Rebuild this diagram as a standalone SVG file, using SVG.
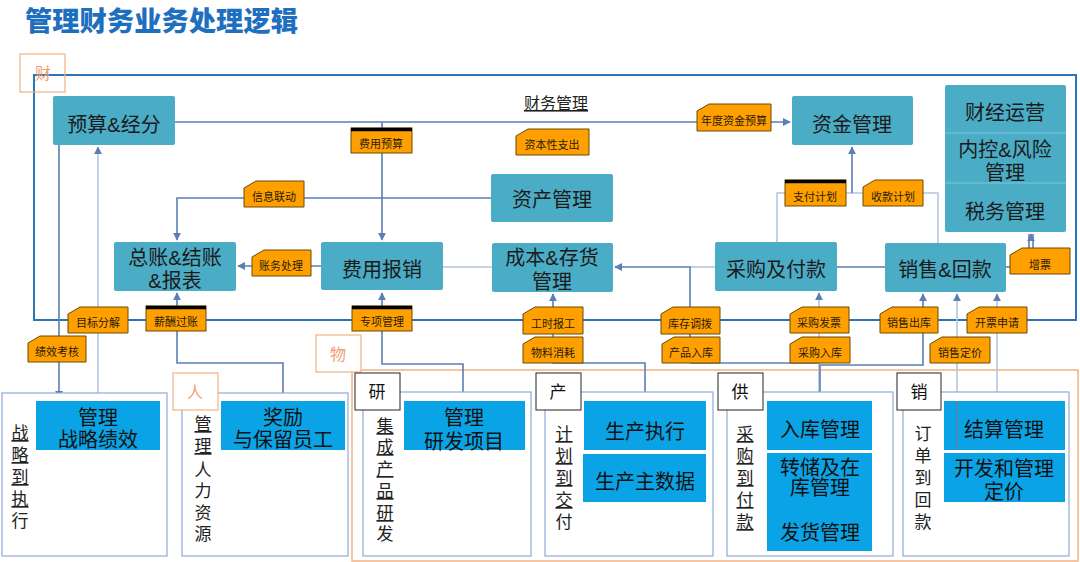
<svg xmlns="http://www.w3.org/2000/svg" width="1080" height="562" viewBox="0 0 1080 562">
<style>
text{font-family:"Liberation Sans","Noto Sans CJK SC",sans-serif;}
.title{font-size:27px;font-weight:900;fill:#1f6fbf;}
.node{fill:#4bacc6;}
.nt{font-size:20px;fill:#1b1b1b;text-anchor:middle;}
.bn{fill:#0aa4e6;}
.bt{font-size:20px;fill:#111;text-anchor:middle;}
.lab{fill:#ffa000;stroke:#6b4a00;stroke-width:1;}
.lt{font-size:11px;fill:#2a1a00;text-anchor:middle;}
.bar{stroke:#000;stroke-width:3.5;}
.frame{fill:none;stroke:#2e75b6;stroke-width:2;}
.oframe{fill:none;stroke:#f4b183;stroke-width:1.5;}
.obox{fill:#fff;stroke:#f4b183;stroke-width:1.2;}
.ot{font-size:16px;fill:#f0a070;text-anchor:middle;}
.sec{fill:#fff;stroke:#8eaadb;stroke-width:1.2;}
.kbox{fill:#fff;stroke:#222;stroke-width:1;}
.kt{font-size:17px;fill:#111;text-anchor:middle;}
.vt{font-size:17px;fill:#222;text-anchor:middle;}
.u{text-decoration:underline;}
.c{fill:none;stroke:#5b7fb5;stroke-width:1.6;}
.cl{fill:none;stroke:#b4c6de;stroke-width:1.6;}
</style>
<defs>
<marker id="a" viewBox="0 0 10 10" refX="9" refY="5" markerWidth="5" markerHeight="5" orient="auto"><path d="M0,0 L10,5 L0,10 z" fill="#5b7fb5"/></marker>
</defs>

<text class="title" x="25" y="31" textLength="273" lengthAdjust="spacingAndGlyphs">管理财务业务处理逻辑</text>

<!-- frames -->
<g id="frame-cai">
<rect class="frame" x="34" y="75" width="1042" height="245"/>
<rect class="obox" x="20" y="54" width="45" height="38" style="fill:none"/>
<text class="ot" x="43" y="79">财</text>
</g>
<g id="frame-wu">
<rect class="oframe" x="352" y="370" width="726" height="191"/>
</g>

<text x="556" y="109" style="font-size:16px;fill:#222;text-anchor:middle;text-decoration:underline">财务管理</text>

<!-- connectors -->
<g id="connectors">
<path class="c" d="M175,122 H790" marker-end="url(#a)"/>
<path class="c" d="M382,122 V240" marker-end="url(#a)"/>
<path class="c" d="M491,198 H177 V240" marker-end="url(#a)"/>
<path class="c" d="M321,266 H238" marker-end="url(#a)"/>
<path class="cl" d="M443,267 H492"/>
<path class="cl" d="M715,267 H690"/>
<path class="c" d="M690,363 V267 H615" marker-end="url(#a)"/>
<path class="c" d="M690,363 H820"/>
<path class="c" d="M837,267 H885"/>
<path class="cl" d="M777,242 V193 H938 V243"/>
<path class="c" d="M852,193 V147" marker-end="url(#a)"/>
<path class="c" d="M1006,267 H1010"/>
<path class="c" d="M1029,248 V234 M1033,248 V234"/>
<path class="c" d="M1031,240 V234" marker-end="url(#a)"/>
<path class="c" d="M283,401 V363 H177 V293" marker-end="url(#a)"/>
<path class="c" d="M463,401 V364 H382 V293" marker-end="url(#a)"/>
<path class="c" d="M645,401 V363 H553 V294" marker-end="url(#a)"/>
<path class="cl" d="M819,401 V293" marker-end="url(#a)"/>
<path class="c" d="M820,401 V365 H923 V294" marker-end="url(#a)"/>
<path class="cl" d="M957,450 V294" marker-end="url(#a)"/>
<path class="cl" d="M997,401 V294" marker-end="url(#a)"/>
<path class="c" d="M59,145 V398" marker-end="url(#a)"/>
<path class="cl" d="M98,401 V147" marker-end="url(#a)"/>
</g>

<!-- top nodes -->
<g id="n-yusuan"><rect class="node" x="53" y="96" width="122" height="49" rx="2"/><text class="nt" x="114" y="132">预算&amp;经分</text></g>
<g id="n-zijin"><rect class="node" x="792" y="96" width="121" height="49" rx="2"/><text class="nt" x="852" y="132">资金管理</text></g>
<g id="n-caijing">
<rect class="node" x="945" y="85" width="121" height="147" rx="2"/>
<path d="M945,133 H1066 M945,183 H1066" stroke="#6fbcd6" stroke-width="1.5"/>
<text class="nt" x="1005" y="120">财经运营</text>
<text class="nt" x="1005" y="157">内控&amp;风险</text>
<text class="nt" x="1005" y="180">管理</text>
<text class="nt" x="1005" y="219">税务管理</text>
</g>
<g id="n-zichan"><rect class="node" x="491" y="174" width="122" height="48" rx="2"/><text class="nt" x="552" y="207">资产管理</text></g>
<g id="n-zongzhang"><rect class="node" x="114" y="242" width="122" height="49" rx="2"/><text class="nt" x="175" y="265">总账&amp;结账</text><text class="nt" x="175" y="288">&amp;报表</text></g>
<g id="n-feiyong"><rect class="node" x="321" y="242" width="122" height="48" rx="2"/><text class="nt" x="382" y="277">费用报销</text></g>
<g id="n-chengben"><rect class="node" x="492" y="243" width="121" height="49" rx="2"/><text class="nt" x="552" y="265">成本&amp;存货</text><text class="nt" x="552" y="289">管理</text></g>
<g id="n-caigou"><rect class="node" x="715" y="242" width="122" height="49" rx="2"/><text class="nt" x="776" y="277">采购及付款</text></g>
<g id="n-xiaoshou"><rect class="node" x="885" y="243" width="121" height="49" rx="2"/><text class="nt" x="945" y="277">销售&amp;回款</text></g>

<!-- labels -->
<g id="l-fyys"><rect class="lab" x="351" y="128" width="61" height="25"/><path class="bar" d="M351,129.5 H412"/><text class="lt" x="381" y="148">费用预算</text></g>
<g id="l-zbxzc"><path class="lab" d="M528,129 H589 V155 H516 V136 z"/><text class="lt" x="552" y="149">资本性支出</text></g>
<g id="l-ndzjys"><path class="lab" d="M709,104 H771 V131 H697 V111 z"/><text class="lt" x="734" y="125">年度资金预算</text></g>
<g id="l-xxld"><path class="lab" d="M256,181 H304 V207 H244 V188 z"/><text class="lt" x="274" y="201">信息联动</text></g>
<g id="l-zwcl"><path class="lab" d="M264,250 H311 V276 H252 V257 z"/><text class="lt" x="281" y="270">账务处理</text></g>
<g id="l-zfjh"><rect class="lab" x="785" y="180" width="61" height="26"/><path class="bar" d="M785,181.5 H846"/><text class="lt" x="815" y="201">支付计划</text></g>
<g id="l-skjh"><path class="lab" d="M875,180 H923 V206 H863 V187 z"/><text class="lt" x="893" y="201">收款计划</text></g>
<g id="l-zp"><path class="lab" d="M1022,248 H1070 V274 H1010 V255 z"/><text class="lt" x="1040" y="269">增票</text></g>
<g id="l-mbfj"><path class="lab" d="M80,307 H128 V333 H68 V314 z"/><text class="lt" x="98" y="327">目标分解</text></g>
<g id="l-jxkh"><path class="lab" d="M40,336 H86 V362 H28 V343 z"/><text class="lt" x="57" y="356">绩效考核</text></g>
<g id="l-xcgz"><rect class="lab" x="146" y="306" width="60" height="25"/><path class="bar" d="M146,307.5 H206"/><text class="lt" x="176" y="326">薪酬过账</text></g>
<g id="l-zxgl"><rect class="lab" x="352" y="306" width="60" height="25"/><path class="bar" d="M352,307.5 H412"/><text class="lt" x="382" y="326">专项管理</text></g>
<g id="l-gsbg"><path class="lab" d="M535,307 H583 V334 H523 V314 z"/><text class="lt" x="553" y="328">工时报工</text></g>
<g id="l-wlxh"><path class="lab" d="M535,337 H583 V363 H523 V344 z"/><text class="lt" x="553" y="357">物料消耗</text></g>
<g id="l-kcdb"><path class="lab" d="M673,307 H720 V334 H661 V314 z"/><text class="lt" x="690" y="328">库存调拨</text></g>
<g id="l-cprk"><path class="lab" d="M674,337 H720 V363 H662 V344 z"/><text class="lt" x="691" y="357">产品入库</text></g>
<g id="l-cgfp"><path class="lab" d="M802,307 H849 V333 H790 V314 z"/><text class="lt" x="819" y="327">采购发票</text></g>
<g id="l-cgrk"><path class="lab" d="M802,337 H850 V363 H790 V344 z"/><text class="lt" x="820" y="357">采购入库</text></g>
<g id="l-xsck"><path class="lab" d="M892,307 H938 V333 H880 V314 z"/><text class="lt" x="909" y="327">销售出库</text></g>
<g id="l-xsdj"><path class="lab" d="M942,337 H990 V363 H930 V344 z"/><text class="lt" x="960" y="357">销售定价</text></g>
<g id="l-kpsq"><path class="lab" d="M979,307 H1027 V333 H967 V314 z"/><text class="lt" x="997" y="327">开票申请</text></g>

<!-- bottom sections -->
<g id="s-zhanlue">
<rect class="sec" x="2" y="393" width="165" height="163"/>
<text class="vt"><tspan class="u" x="20" y="439">战</tspan><tspan class="u" x="20" y="461">略</tspan><tspan class="u" x="20" y="483">到</tspan><tspan class="u" x="20" y="505">执</tspan><tspan x="20" y="527">行</tspan></text>
<rect class="bn" x="36" y="401" width="124" height="49"/>
<text class="bt" x="98" y="425">管理</text><text class="bt" x="98" y="447">战略绩效</text>
</g>
<g id="s-renli">
<rect class="sec" x="182" y="393" width="166" height="163"/>
<rect class="obox" x="173" y="373" width="45" height="37"/>
<text class="ot" x="195" y="398">人</text>
<text class="vt"><tspan class="u" x="203" y="430">管</tspan><tspan class="u" x="203" y="452">理</tspan><tspan x="203" y="476">人</tspan><tspan x="203" y="497">力</tspan><tspan x="203" y="519">资</tspan><tspan x="203" y="540">源</tspan></text>
<rect class="bn" x="221" y="401" width="124" height="49"/>
<text class="bt" x="283" y="425">奖励</text><text class="bt" x="283" y="447">与保留员工</text>
</g>
<g id="s-wu">
<rect class="obox" x="316" y="335" width="45" height="37"/>
<text class="ot" x="338" y="360">物</text>
</g>
<g id="s-yanfa">
<rect class="sec" x="363" y="392" width="168" height="164"/>
<rect class="kbox" x="355" y="373" width="45" height="37"/>
<text class="kt" x="377" y="398">研</text>
<text class="vt"><tspan class="u" x="385" y="432">集</tspan><tspan class="u" x="385" y="453">成</tspan><tspan class="u" x="385" y="475">产</tspan><tspan class="u" x="385" y="497">品</tspan><tspan class="u" x="385" y="519">研</tspan><tspan x="385" y="540">发</tspan></text>
<rect class="bn" x="404" y="401" width="121" height="49"/>
<text class="bt" x="464" y="425">管理</text><text class="bt" x="464" y="449">研发项目</text>
</g>
<g id="s-chan">
<rect class="sec" x="545" y="392" width="168" height="164"/>
<rect class="kbox" x="536" y="373" width="45" height="37"/>
<text class="kt" x="558" y="398">产</text>
<text class="vt"><tspan class="u" x="564" y="440">计</tspan><tspan class="u" x="564" y="462">划</tspan><tspan class="u" x="564" y="484">到</tspan><tspan class="u" x="564" y="506">交</tspan><tspan x="564" y="528">付</tspan></text>
<rect class="bn" x="584" y="401" width="122" height="49"/>
<text class="bt" x="645" y="439">生产执行</text>
<rect class="bn" x="583" y="454" width="123" height="48"/>
<text class="bt" x="645" y="489">生产主数据</text>
</g>
<g id="s-gong">
<rect class="sec" x="727" y="392" width="166" height="164"/>
<rect class="kbox" x="718" y="373" width="45" height="37"/>
<text class="kt" x="740" y="398">供</text>
<text class="vt"><tspan class="u" x="745" y="440">采</tspan><tspan class="u" x="745" y="462">购</tspan><tspan class="u" x="745" y="484">到</tspan><tspan class="u" x="745" y="506">付</tspan><tspan class="u" x="745" y="528">款</tspan></text>
<rect class="bn" x="767" y="401" width="105" height="49"/>
<text class="bt" x="820" y="437">入库管理</text>
<rect class="bn" x="767" y="453" width="105" height="98"/>
<text class="bt" x="820" y="475">转储及在</text><text class="bt" x="820" y="495">库管理</text>
<text class="bt" x="820" y="540">发货管理</text>
</g>
<g id="s-xiao">
<rect class="sec" x="903" y="392" width="166" height="164"/>
<rect class="kbox" x="897" y="373" width="44" height="37"/>
<text class="kt" x="919" y="398">销</text>
<text class="vt"><tspan x="923" y="440">订</tspan><tspan x="923" y="462">单</tspan><tspan x="923" y="484">到</tspan><tspan x="923" y="506">回</tspan><tspan x="923" y="528">款</tspan></text>
<rect class="bn" x="944" y="401" width="121" height="49"/>
<text class="bt" x="1004" y="437">结算管理</text>
<rect class="bn" x="944" y="453" width="121" height="49"/>
<text class="bt" x="1004" y="476">开发和管理</text><text class="bt" x="1004" y="499">定价</text>
</g>
<!-- lines entering boxes drawn over -->
<path class="c" d="M957,401 V450"/>
</svg>
